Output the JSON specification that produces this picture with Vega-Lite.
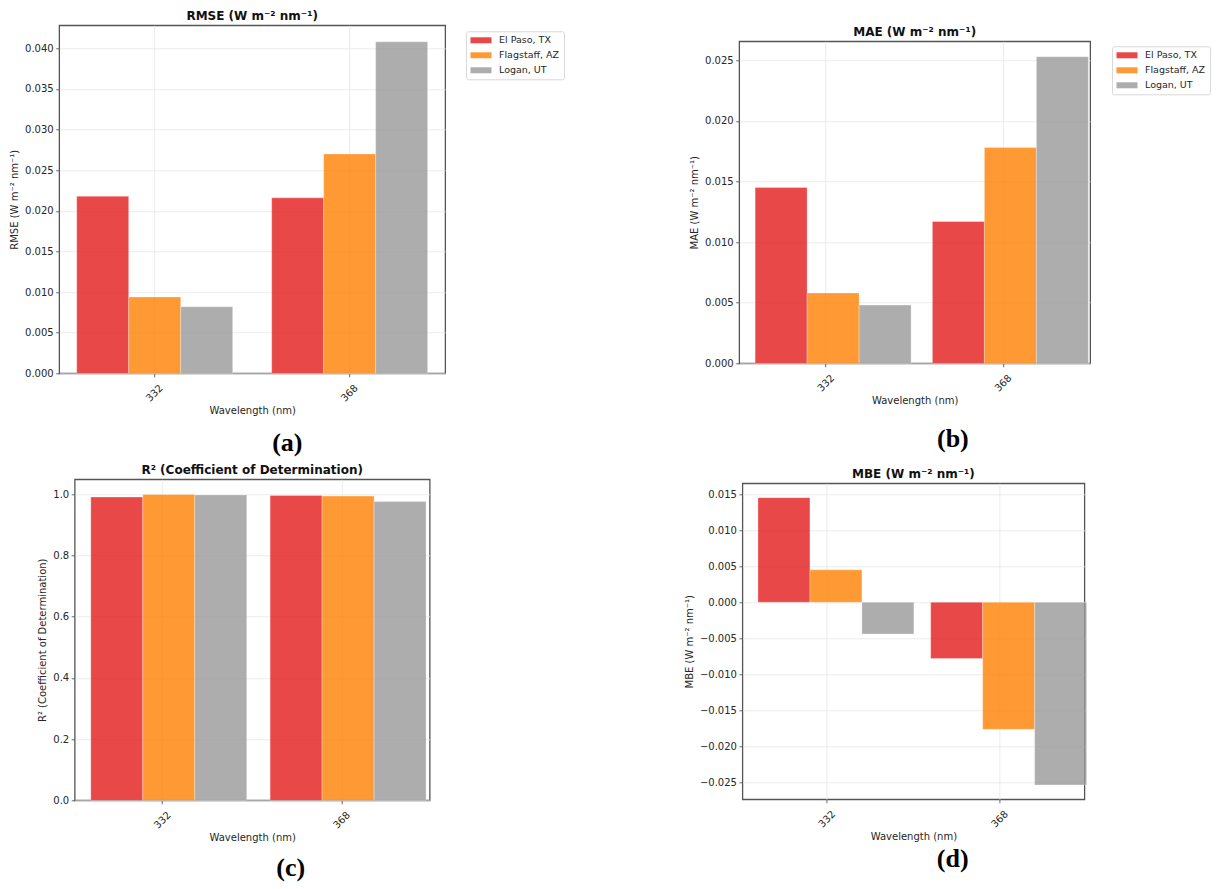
{
  "$schema": "https://vega.github.io/schema/vega-lite/v6.json",
  "background": "white",
  "padding": {"left": 8, "top": 9, "right": 0, "bottom": 0},
  "datasets": {
    "metrics": [
      {"metric": "RMSE", "wavelength": "332", "site": "El Paso, TX", "value": 0.0218},
      {"metric": "RMSE", "wavelength": "332", "site": "Flagstaff, AZ", "value": 0.0094},
      {"metric": "RMSE", "wavelength": "332", "site": "Logan, UT", "value": 0.0082},
      {"metric": "RMSE", "wavelength": "368", "site": "El Paso, TX", "value": 0.0216},
      {"metric": "RMSE", "wavelength": "368", "site": "Flagstaff, AZ", "value": 0.0270},
      {"metric": "RMSE", "wavelength": "368", "site": "Logan, UT", "value": 0.0408},
      {"metric": "MAE", "wavelength": "332", "site": "El Paso, TX", "value": 0.0145},
      {"metric": "MAE", "wavelength": "332", "site": "Flagstaff, AZ", "value": 0.0058},
      {"metric": "MAE", "wavelength": "332", "site": "Logan, UT", "value": 0.0048},
      {"metric": "MAE", "wavelength": "368", "site": "El Paso, TX", "value": 0.0117},
      {"metric": "MAE", "wavelength": "368", "site": "Flagstaff, AZ", "value": 0.0178},
      {"metric": "MAE", "wavelength": "368", "site": "Logan, UT", "value": 0.0253},
      {"metric": "R2", "wavelength": "332", "site": "El Paso, TX", "value": 0.991},
      {"metric": "R2", "wavelength": "332", "site": "Flagstaff, AZ", "value": 0.999},
      {"metric": "R2", "wavelength": "332", "site": "Logan, UT", "value": 0.998},
      {"metric": "R2", "wavelength": "368", "site": "El Paso, TX", "value": 0.996},
      {"metric": "R2", "wavelength": "368", "site": "Flagstaff, AZ", "value": 0.994},
      {"metric": "R2", "wavelength": "368", "site": "Logan, UT", "value": 0.976},
      {"metric": "MBE", "wavelength": "332", "site": "El Paso, TX", "value": 0.0145},
      {"metric": "MBE", "wavelength": "332", "site": "Flagstaff, AZ", "value": 0.0045},
      {"metric": "MBE", "wavelength": "332", "site": "Logan, UT", "value": -0.0044},
      {"metric": "MBE", "wavelength": "368", "site": "El Paso, TX", "value": -0.0078},
      {"metric": "MBE", "wavelength": "368", "site": "Flagstaff, AZ", "value": -0.0176},
      {"metric": "MBE", "wavelength": "368", "site": "Logan, UT", "value": -0.0253}
    ]
  },
  "spacing": 118,
  "center": true,
  "hconcat": [
    {
      "vconcat": [
        {
          "title": {"text": "(a)", "orient": "bottom", "anchor": "middle", "font": "Liberation Serif", "fontSize": 26, "fontWeight": "bold", "color": "#000", "offset": 14, "dx": 60},
          "vconcat": [
            {
              "width": 386, "height": 348,
              "title": "RMSE (W m⁻² nm⁻¹)",
              "data": {"name": "metrics"},
              "transform": [{"filter": "datum.metric === 'RMSE'"}],
              "mark": {"type": "bar", "fillOpacity": 0.8, "stroke": "white", "strokeWidth": 0.6, "strokeOpacity": 0.5},
              "encoding": {
                "x": {"field": "wavelength", "type": "nominal", "title": "Wavelength (nm)", "scale": {"paddingInner": 0.2, "paddingOuter": 0.09}},
                "xOffset": {"field": "site", "type": "nominal", "sort": ["El Paso, TX", "Flagstaff, AZ", "Logan, UT"], "scale": {"paddingInner": 0, "paddingOuter": 0}},
                "y": {"field": "value", "type": "quantitative", "title": "RMSE (W m⁻² nm⁻¹)", "scale": {"domain": [0, 0.04284], "nice": false}, "axis": {"format": ".3f", "values": [0, 0.005, 0.01, 0.015, 0.02, 0.025, 0.03, 0.035, 0.04]}},
                "color": {"field": "site", "type": "nominal", "scale": {"domain": ["El Paso, TX", "Flagstaff, AZ", "Logan, UT"], "range": ["#e41a1c", "#ff7f00", "#999999"]}, "legend": {"orient": "none", "legendX": 407, "legendY": 6}}
              }
            }
          ]
        },
        {
          "title": {"text": "(c)", "subtitle": " ", "subtitleFontSize": 7, "subtitlePadding": 0, "orient": "bottom", "anchor": "middle", "font": "Liberation Serif", "fontSize": 26, "fontWeight": "bold", "color": "#000", "offset": 12, "dx": 57},
          "vconcat": [
            {
              "width": 355, "height": 321,
              "title": "R² (Coefficient of Determination)",
              "data": {"name": "metrics"},
              "transform": [{"filter": "datum.metric === 'R2'"}],
              "mark": {"type": "bar", "fillOpacity": 0.8, "stroke": "white", "strokeWidth": 0.6, "strokeOpacity": 0.5},
              "encoding": {
                "x": {"field": "wavelength", "type": "nominal", "title": "Wavelength (nm)", "scale": {"paddingInner": 0.2, "paddingOuter": 0.09}},
                "xOffset": {"field": "site", "type": "nominal", "sort": ["El Paso, TX", "Flagstaff, AZ", "Logan, UT"], "scale": {"paddingInner": 0, "paddingOuter": 0}},
                "y": {"field": "value", "type": "quantitative", "title": "R² (Coefficient of Determination)", "scale": {"domain": [0, 1.049], "nice": false}, "axis": {"format": ".1f", "values": [0, 0.2, 0.4, 0.6, 0.8, 1.0]}},
                "color": {"field": "site", "type": "nominal", "scale": {"domain": ["El Paso, TX", "Flagstaff, AZ", "Logan, UT"], "range": ["#e41a1c", "#ff7f00", "#999999"]}, "legend": {"orient": "none", "legendX": 379, "legendY": 5}}
              }
            }
          ]
        }
      ],
      "spacing": 7,
      "center": true
    },
    {
      "vconcat": [
        {
          "title": {"text": "(b)", "orient": "bottom", "anchor": "middle", "font": "Liberation Serif", "fontSize": 26, "fontWeight": "bold", "color": "#000", "offset": 20, "dx": 63},
          "vconcat": [
            {
              "width": 351, "height": 322,
              "title": "MAE (W m⁻² nm⁻¹)",
              "data": {"name": "metrics"},
              "transform": [{"filter": "datum.metric === 'MAE'"}],
              "mark": {"type": "bar", "fillOpacity": 0.8, "stroke": "white", "strokeWidth": 0.6, "strokeOpacity": 0.5},
              "encoding": {
                "x": {"field": "wavelength", "type": "nominal", "title": "Wavelength (nm)", "scale": {"paddingInner": 0.2, "paddingOuter": 0.09}},
                "xOffset": {"field": "site", "type": "nominal", "sort": ["El Paso, TX", "Flagstaff, AZ", "Logan, UT"], "scale": {"paddingInner": 0, "paddingOuter": 0}},
                "y": {"field": "value", "type": "quantitative", "title": "MAE (W m⁻² nm⁻¹)", "scale": {"domain": [0, 0.02657], "nice": false}, "axis": {"format": ".3f", "values": [0, 0.005, 0.01, 0.015, 0.02, 0.025]}},
                "color": {"field": "site", "type": "nominal", "scale": {"domain": ["El Paso, TX", "Flagstaff, AZ", "Logan, UT"], "range": ["#e41a1c", "#ff7f00", "#999999"]}, "legend": {"orient": "none", "legendX": 373, "legendY": 5}}
              }
            }
          ]
        },
        {
          "title": {"text": "(d)", "orient": "bottom", "anchor": "middle", "font": "Liberation Serif", "fontSize": 26, "fontWeight": "bold", "color": "#000", "offset": 4, "dx": 67},
          "vconcat": [
            {
              "width": 342, "height": 316,
              "title": "MBE (W m⁻² nm⁻¹)",
              "data": {"name": "metrics"},
              "transform": [{"filter": "datum.metric === 'MBE'"}],
              "mark": {"type": "bar", "fillOpacity": 0.8, "stroke": "white", "strokeWidth": 0.6, "strokeOpacity": 0.5},
              "encoding": {
                "x": {"field": "wavelength", "type": "nominal", "title": "Wavelength (nm)", "scale": {"paddingInner": 0.2, "paddingOuter": 0.09}},
                "xOffset": {"field": "site", "type": "nominal", "sort": ["El Paso, TX", "Flagstaff, AZ", "Logan, UT"], "scale": {"paddingInner": 0, "paddingOuter": 0}},
                "y": {"field": "value", "type": "quantitative", "title": "MBE (W m⁻² nm⁻¹)", "scale": {"domain": [-0.02729, 0.01649], "nice": false}, "axis": {"format": ".3f", "values": [-0.025, -0.02, -0.015, -0.01, -0.005, 0, 0.005, 0.01, 0.015]}},
                "color": {"field": "site", "type": "nominal", "scale": {"domain": ["El Paso, TX", "Flagstaff, AZ", "Logan, UT"], "range": ["#e41a1c", "#ff7f00", "#999999"]}, "legend": {"orient": "none", "legendX": 364, "legendY": 5}}
              }
            }
          ]
        }
      ],
      "spacing": 15,
      "center": true
    }
  ],
  "resolve": {"scale": {"color": "independent", "x": "independent", "y": "independent"}, "legend": {"color": "independent"}},
  "config": {
    "font": "DejaVu Sans",
    "view": {"stroke": "#555555", "strokeWidth": 1.3},
    "title": {"font": "DejaVu Sans", "fontSize": 12, "fontWeight": "bold", "color": "#111111", "offset": 2},
    "axis": {
      "domain": false,
      "grid": true,
      "gridColor": "#e6e6e6",
      "gridWidth": 0.8,
      "ticks": true,
      "tickColor": "#444444",
      "tickSize": 3.5,
      "tickWidth": 0.8,
      "labelFont": "DejaVu Sans",
      "labelFontSize": 10,
      "labelColor": "#262626",
      "labelPadding": 2.5,
      "titleFont": "DejaVu Sans",
      "titleFontSize": 10,
      "titleFontWeight": "normal",
      "titleColor": "#262626",
      "titlePadding": 5
    },
    "axisX": {
      "bandPosition": 0.5,
      "labelAngle": -45,
      "labelAlign": "center",
      "labelBaseline": "middle",
      "labelPadding": 16,
      "labelOverlap": false,
      "titlePadding": 2
    },
    "legend": {
      "title": null,
      "padding": 4,
      "strokeColor": "#d9d9d9",
      "cornerRadius": 2,
      "fillColor": "white",
      "labelFont": "DejaVu Sans",
      "labelFontSize": 9.5,
      "labelColor": "#262626",
      "symbolType": "M-2.1,-0.6H2.1V0.6H-2.1Z",
      "symbolSize": 100,
      "symbolStrokeWidth": 0,
      "symbolOpacity": 0.8,
      "symbolOffset": 6,
      "labelOffset": 13,
      "rowPadding": 5
    }
  }
}
